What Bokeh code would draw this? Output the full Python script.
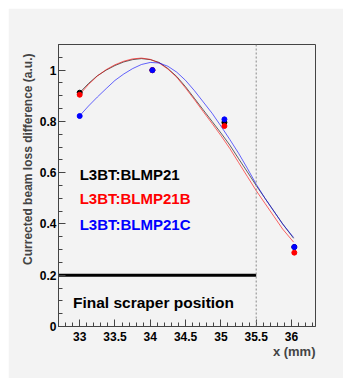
from bokeh.plotting import figure
from bokeh.models import (Range1d, SingleIntervalTicker, CustomJSTickFormatter, Span,
                          Label, Title)
from bokeh.embed import file_html
from bokeh.resources import INLINE

# measured points
x_pts = [33.0, 34.03, 35.05, 36.04]
y_black = [0.912, 1.0, 0.796, 0.31]
y_red = [0.904, 1.0, 0.782, 0.288]
y_blue = [0.821, 1.0, 0.808, 0.310]

# fitted curves
curve_x = [33.0, 33.125, 33.25, 33.375, 33.5, 33.625, 33.75, 33.875, 34.0, 34.125,
           34.25, 34.375, 34.5, 34.625, 34.75, 34.875, 35.0, 35.125, 35.25, 35.375,
           35.5, 35.625, 35.75, 35.875, 36.03]
fit_black = [0.912, 0.948, 0.978, 1.0, 1.018, 1.032, 1.041, 1.045, 1.041, 1.03,
             1.006, 0.975, 0.935, 0.89, 0.845, 0.80, 0.755, 0.708, 0.655, 0.603,
             0.55, 0.50, 0.45, 0.40, 0.344]
fit_red = [0.905, 0.944, 0.977, 1.002, 1.021, 1.035, 1.044, 1.047, 1.042, 1.028,
           1.004, 0.972, 0.93, 0.885, 0.838, 0.792, 0.745, 0.695, 0.64, 0.585,
           0.53, 0.48, 0.43, 0.38, 0.329]
fit_blue = [0.822, 0.86, 0.895, 0.928, 0.96, 0.985, 1.006, 1.022, 1.03, 1.028,
            1.015, 0.992, 0.96, 0.92, 0.876, 0.832, 0.782, 0.73, 0.676, 0.617,
            0.555, 0.50, 0.45, 0.40, 0.347]

scraper_x = 35.5
scraper_y = 0.2
x_min, x_max = 32.7, 36.34
y_min, y_max = 0.0, 1.1

names = ["L3BT:BLMP21", "L3BT:BLMP21B", "L3BT:BLMP21C"]
colors = ["black", "red", "blue"]

BG = "#f3f3f3"
FONT = "Liberation Sans"

p = figure(width=335, height=370, output_backend="svg", toolbar_location=None,
           x_range=Range1d(x_min, x_max), y_range=Range1d(y_min, y_max),
           min_border_left=50, min_border_right=28, min_border_top=36, min_border_bottom=52)
p.margin = (8, 0, 0, 8)
p.background_fill_color = BG
p.border_fill_color = BG
p.outline_line_color = "#444444"
p.grid.visible = False

fmt = CustomJSTickFormatter(code="return String(Math.round(tick*100)/100);")
p.xaxis.ticker = SingleIntervalTicker(interval=0.5, num_minor_ticks=5)
p.yaxis.ticker = SingleIntervalTicker(interval=0.2, num_minor_ticks=4)
for ax in (p.xaxis, p.yaxis):
    ax.formatter = fmt
    ax.axis_line_color = "#444444"
    ax.major_tick_line_color = "#444444"
    ax.minor_tick_line_color = "#444444"
    ax.major_tick_in = 7
    ax.major_tick_out = 0
    ax.minor_tick_in = 4
    ax.minor_tick_out = 0
    ax.major_label_text_font = FONT
    ax.major_label_text_font_style = "bold"
    ax.major_label_text_font_size = "12px"
    ax.major_label_text_color = "black"
p.yaxis.major_label_standoff = 2
p.xaxis.major_label_standoff = 5

p.add_layout(Title(text="Currected beam loss difference (a.u.)", align="right",
                   text_font=FONT, text_font_style="bold", text_font_size="12px",
                   standoff=4, offset=9), "left")
p.add_layout(Title(text="x (mm)", align="right", text_font=FONT, text_font_style="bold",
                   text_font_size="13px", standoff=-3), "below")

p.add_layout(Span(location=scraper_x, dimension="height", line_color="#888888",
                  line_dash="2 2", line_width=1))
p.segment(x0=[x_min], y0=[scraper_y], x1=[scraper_x], y1=[scraper_y],
          line_color="black", line_width=3)

for fit, c in zip([fit_black, fit_red, fit_blue], colors):
    p.line(curve_x, fit, line_color=c, line_width=1, line_alpha=0.6)
for ys, c in zip([y_black, y_red, y_blue], colors):
    p.scatter(x_pts, ys, size=5, fill_color=c, line_color=c)

label_y = [0.594, 0.5, 0.398]
for n, c, ly in zip(names, colors, label_y):
    p.add_layout(Label(x=33.0, y=ly, text=n, text_color=c, text_font=FONT,
                       text_font_style="bold", text_font_size="15px",
                       text_baseline="alphabetic"))
p.add_layout(Label(x=32.905, y=0.095, text="Final scraper position", text_color="black",
                   text_font=FONT, text_font_style="bold", text_font_size="15.5px",
                   text_baseline="alphabetic"))

open("out.html", "w").write(file_html(p, INLINE))
